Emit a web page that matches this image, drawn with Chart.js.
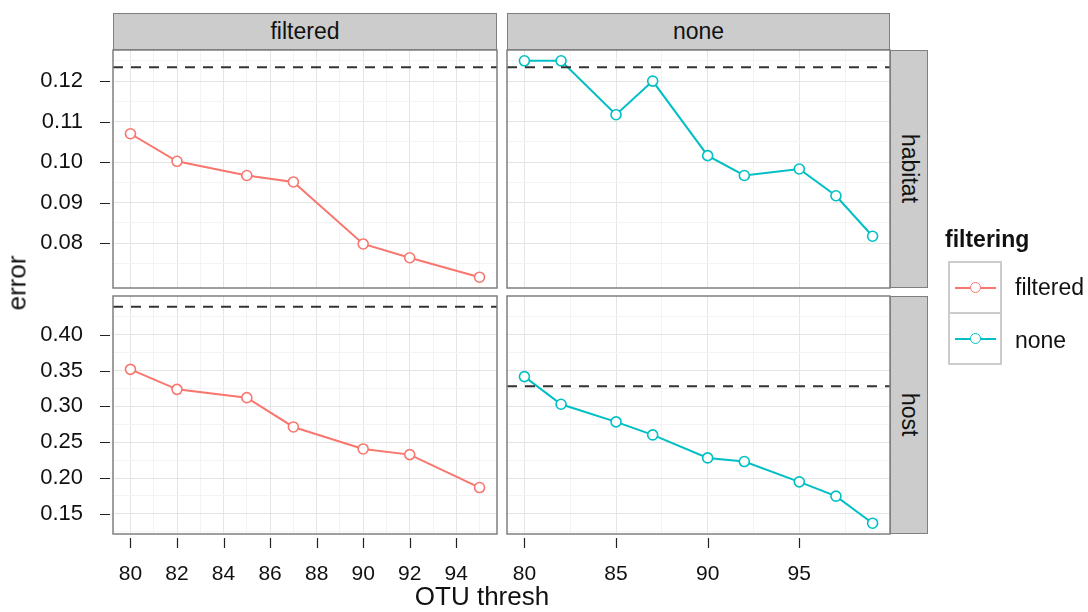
<!DOCTYPE html>
<html>
<head>
<meta charset="utf-8">
<script src="https://cdn.jsdelivr.net/npm/chart.js@4.4.1/dist/chart.umd.min.js"></script>
<style>
  body { margin: 0; background: #fff; font-family: "Liberation Sans", Arial, sans-serif; color: #111; }
  #wrap { position: relative; width: 1088px; height: 612px; overflow: hidden; }
  #wrap canvas { position: absolute; left: 0; top: 0; }
  .strip { position: absolute; box-sizing: border-box; background: #cccccc; border: 1.5px solid #7f7f7f;
           display: flex; align-items: center; justify-content: center; font-size: 23px; }
  .strip.side { writing-mode: vertical-rl; }
  .title { position: absolute; font-size: 26px; white-space: nowrap; }
  .key { position: absolute; left: 948px; width: 54px; height: 53px; box-sizing: border-box; border: 2px solid #cccccc; }
  .key .ln { position: absolute; left: 5px; width: 41px; top: 23.5px; height: 2px; }
  .key .pt { position: absolute; left: 19.5px; top: 18.5px; width: 9px; height: 9px; border-radius: 50%;
             background: #fff; border: 1.5px solid; }
  .lab { position: absolute; left: 1015px; font-size: 23px; line-height: 26px; }
</style>
</head>
<body>
<div id="wrap">
  <canvas id="c00" width="1088" height="612"></canvas>
  <canvas id="c01" width="1088" height="612"></canvas>
  <canvas id="c10" width="1088" height="612"></canvas>
  <canvas id="c11" width="1088" height="612"></canvas>

  <div class="strip" style="left:113px; top:13px; width:384px; height:37px;">filtered</div>
  <div class="strip" style="left:507px; top:13px; width:383px; height:37px;">none</div>
  <div class="strip side" style="left:890px; top:50px; width:38px; height:238px;">habitat</div>
  <div class="strip side" style="left:890px; top:296px; width:38px; height:238px;">host</div>

  <div class="title" style="left:17px; top:283px; transform: translate(-50%, -50%) rotate(-90deg);">error</div>
  <div class="title" style="left:482px; top:596px; transform: translate(-50%, -50%);">OTU thresh</div>

  <div style="position:absolute; left:945px; top:226px; font-size:23px; font-weight:bold;">filtering</div>
  <div class="key" style="top:261px;"><div class="ln" style="background:#F8766D"></div><div class="pt" style="border-color:#F8766D"></div></div>
  <div class="key" style="top:312px;"><div class="ln" style="background:#00BFC4"></div><div class="pt" style="border-color:#00BFC4"></div></div>
  <div class="lab" style="top:274px;">filtered</div>
  <div class="lab" style="top:327px;">none</div>
</div>

<script>
const threshFiltered = [80, 82, 85, 87, 90, 92, 95];
const threshNone = [80, 82, 85, 87, 90, 92, 95, 97, 99];

const habitatFiltered = [0.1070, 0.1002, 0.0967, 0.0951, 0.0798, 0.0764, 0.0716];
const habitatNone = [0.1250, 0.1250, 0.1117, 0.1200, 0.1016, 0.0967, 0.0983, 0.0917, 0.0817];
const hostFiltered = [0.3517, 0.3238, 0.3122, 0.2713, 0.2406, 0.2327, 0.1867];
const hostNone = [0.3416, 0.3030, 0.2784, 0.2602, 0.2281, 0.2230, 0.1947, 0.1747, 0.1370];

// dashed reference lines, [filtered, none]
const baselineHabitat = [0.1234, 0.1234];
const baselineHost = [0.439, 0.328];

const habitatTicks = [0.08, 0.09, 0.10, 0.11, 0.12];
const hostTicks = [0.15, 0.20, 0.25, 0.30, 0.35, 0.40];
const filteredXTicks = [80, 82, 84, 86, 88, 90, 92, 94];
const noneXTicks = [80, 85, 90, 95];

const colFiltered = "#F8766D";
const colNone = "#00BFC4";
const FONT = "'Liberation Sans', Arial, sans-serif";

// ggplot style 5% expansion
function expand(vals) {
  const lo = Math.min(...vals), hi = Math.max(...vals);
  const pad = (hi - lo) * 0.05;
  return [lo - pad, hi + pad];
}

// majors plus halfway minor breaks inside the range
function withMinor(majors, lo, hi) {
  const step = majors[1] - majors[0];
  const out = majors.map(v => ({ value: v, minor: false }));
  for (let i = -1; i < majors.length; i++) {
    const m = +(majors[0] + (i + 0.5) * step).toFixed(6);
    if (m >= lo && m <= hi) out.push({ value: m, minor: true });
  }
  return out.sort((a, b) => a.value - b.value);
}

const habRange = expand([...habitatFiltered, ...habitatNone, ...baselineHabitat]);
const hostRange = expand([...hostFiltered, ...hostNone, ...baselineHost]);
const xFilteredRange = expand(threshFiltered);
const xNoneRange = expand(threshNone);

const panelDeco = {
  id: "panelDeco",
  afterDatasetsDraw(chart, args, opts) {
    const { ctx, chartArea: a, scales: { x, y } } = chart;
    ctx.save();
    // dashed line
    const py = y.getPixelForValue(opts.baseline);
    ctx.setLineDash([10, 8]);
    ctx.lineWidth = 2;
    ctx.strokeStyle = "#333333";
    ctx.beginPath();
    ctx.moveTo(a.left, py);
    ctx.lineTo(a.right, py);
    ctx.stroke();
    ctx.setLineDash([]);
    // panel border
    ctx.lineWidth = 1.5;
    ctx.strokeStyle = "#7f7f7f";
    ctx.strokeRect(a.left, a.top, a.right - a.left, a.bottom - a.top);
    // tick marks, detached from the panel
    ctx.lineWidth = 1.2;
    ctx.strokeStyle = "#222222";
    ctx.beginPath();
    if (opts.yTicks) {
      y.ticks.forEach(t => {
        if (t.minor) return;
        const p = Math.round(y.getPixelForValue(t.value)) + 0.5;
        ctx.moveTo(a.left - 13, p);
        ctx.lineTo(a.left - 3, p);
      });
    }
    if (opts.xTicks) {
      x.ticks.forEach(t => {
        if (t.minor) return;
        const p = Math.round(x.getPixelForValue(t.value)) + 0.5;
        ctx.moveTo(p, a.bottom + 4);
        ctx.lineTo(p, a.bottom + 14);
      });
    }
    ctx.stroke();
    ctx.restore();
  }
};

function gridColor(c) {
  return c.tick && c.tick.minor ? "#f3f3f3" : "#e4e4e4";
}

function facet(id, opt) {
  const xTickList = withMinor(opt.xTicks, opt.xRange[0], opt.xRange[1]);
  const yTickList = withMinor(opt.yTicks, opt.yRange[0], opt.yRange[1]);
  new Chart(document.getElementById(id), {
    type: "line",
    data: {
      datasets: [{
        data: opt.xs.map((v, i) => ({ x: v, y: opt.ys[i] })),
        borderColor: opt.color,
        borderWidth: 2,
        pointRadius: 5,
        pointBorderWidth: 1.6,
        pointBackgroundColor: "#ffffff",
        pointBorderColor: opt.color,
        tension: 0,
        clip: false
      }]
    },
    options: {
      responsive: false,
      animation: false,
      events: [],
      layout: { padding: opt.padding },
      plugins: {
        legend: { display: false },
        tooltip: { enabled: false },
        panelDeco: { baseline: opt.baseline, yTicks: opt.showY, xTicks: opt.showX }
      },
      scales: {
        x: {
          type: "linear",
          bounds: "data",
          min: opt.xRange[0],
          max: opt.xRange[1],
          afterBuildTicks: s => { s.ticks = xTickList.map(t => ({ ...t })); },
          afterFit: s => { s.height = opt.showX ? 78 : 0; },
          border: { display: false },
          grid: { color: gridColor, lineWidth: 1, drawTicks: false },
          ticks: {
            display: opt.showX,
            autoSkip: false,
            maxRotation: 0,
            padding: 28,
            color: "#111",
            font: { family: FONT, size: 21 },
            callback: (v, i, ticks) => ticks[i].minor ? "" : String(v)
          }
        },
        y: {
          type: "linear",
          bounds: "data",
          min: opt.yRange[0],
          max: opt.yRange[1],
          afterBuildTicks: s => { s.ticks = yTickList.map(t => ({ ...t })); },
          afterFit: s => { s.width = opt.showY ? 113 : 0; },
          border: { display: false },
          grid: { color: gridColor, lineWidth: 1, drawTicks: false },
          ticks: {
            display: opt.showY,
            autoSkip: false,
            padding: 30,
            color: "#111",
            font: { family: FONT, size: 22 },
            callback: (v, i, ticks) => ticks[i].minor ? "" : v.toFixed(2)
          }
        }
      }
    },
    plugins: [panelDeco]
  });
}

facet("c00", {
  xs: threshFiltered, ys: habitatFiltered, color: colFiltered, baseline: baselineHabitat[0],
  xTicks: filteredXTicks, xRange: xFilteredRange, yTicks: habitatTicks, yRange: habRange,
  showX: false, showY: true, padding: { left: 0, top: 50, right: 591, bottom: 324 }
});
facet("c01", {
  xs: threshNone, ys: habitatNone, color: colNone, baseline: baselineHabitat[1],
  xTicks: noneXTicks, xRange: xNoneRange, yTicks: habitatTicks, yRange: habRange,
  showX: false, showY: false, padding: { left: 507, top: 50, right: 198, bottom: 324 }
});
facet("c10", {
  xs: threshFiltered, ys: hostFiltered, color: colFiltered, baseline: baselineHost[0],
  xTicks: filteredXTicks, xRange: xFilteredRange, yTicks: hostTicks, yRange: hostRange,
  showX: true, showY: true, padding: { left: 0, top: 296, right: 591, bottom: 0 }
});
facet("c11", {
  xs: threshNone, ys: hostNone, color: colNone, baseline: baselineHost[1],
  xTicks: noneXTicks, xRange: xNoneRange, yTicks: hostTicks, yRange: hostRange,
  showX: true, showY: false, padding: { left: 507, top: 296, right: 198, bottom: 0 }
});
</script>
</body>
</html>
